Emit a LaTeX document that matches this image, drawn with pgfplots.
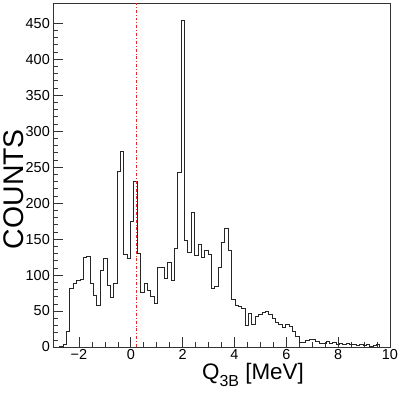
\documentclass[border=0pt]{standalone}
\usepackage{fontspec}
\setmainfont{Liberation Sans}
\usepackage{pgfplots}
\usepackage{pgfplotstable}
\pgfplotsset{compat=1.18}
\definecolor{rootred}{RGB}{230,40,40}
\pgfplotstableread{
x c
-3.00 0
-2.87 0
-2.74 1
-2.61 4
-2.48 21
-2.35 81
-2.22 88
-2.09 92
-1.96 94
-1.83 125
-1.70 126
-1.57 88
-1.44 72
-1.31 58
-1.18 106
-1.05 123
-0.92 85
-0.79 69
-0.66 88
-0.53 244
-0.40 272
-0.27 129
-0.14 123
-0.01 174
0.12 230
0.25 130
0.38 76
0.51 88
0.64 78
0.77 70
0.90 60
1.03 110
1.16 110
1.29 96
1.42 118
1.55 93
1.68 137
1.81 242
1.94 454
2.07 148
2.20 131
2.33 187
2.46 127
2.59 142
2.72 125
2.85 134
2.98 128
3.11 82
3.24 84
3.37 111
3.50 146
3.63 165
3.76 134
3.89 66
4.02 58
4.15 56
4.28 54
4.41 30
4.54 46
4.67 32
4.80 43
4.93 45
5.06 48
5.19 50
5.32 45
5.45 40
5.58 34
5.71 31
5.84 27
5.97 32
6.10 28
6.23 21
6.36 15
6.49 6
6.62 7
6.75 9
6.88 10
7.01 11
7.14 8
7.27 5
7.40 5
7.53 8
7.66 5
7.79 6
7.92 4
8.05 5
8.18 3
8.31 5
8.44 3
8.57 3
8.70 2
8.83 4
8.96 2
9.09 3
9.22 1
9.35 2
9.48 3
9.61 0
9.74 0
9.87 0
10.00 0
}\histdata
\begin{document}
\begin{tikzpicture}
\useasboundingbox (-53bp,-49bp) rectangle (347bp,347bp);
\begin{axis}[
  at={(0,0)}, anchor=south west,
  width=337bp, height=344bp, scale only axis,
  xmin=-3, xmax=10, ymin=0, ymax=478,
  xtick={-2,0,2,4,6,8,10}, xticklabels={−2,0,2,4,6,8,10},
  ytick={0,50,...,450},
  minor x tick num=3, minor y tick num=4,
  xtick pos=bottom, ytick pos=left,
  tick align=inside,
  major tick length=10bp, minor tick length=5bp,
  tick style={black!80, line width=0.6bp},
  axis line style={black!80, line width=0.9bp},
  /pgf/number format/assume math mode=true,
  ticklabel style={font=\fontsize{14.5}{16}\selectfont},
  xticklabel style={inner sep=0pt, yshift=-2bp},
  yticklabel style={inner sep=0pt, xshift=-3bp},
  xlabel={Q\raisebox{-0.3em}{\fontsize{16}{16}\selectfont 3B} [MeV]},
  xlabel style={at={(axis description cs:0.442,-0.094)}, anchor=base west, inner sep=0pt, font=\fontsize{22.5}{24}\selectfont},
  ylabel={COUNTS},
  ylabel style={at={(axis description cs:-0.116,0.459)}, anchor=center, inner sep=0pt, font=\fontsize{28.5}{30}\selectfont},
]
\addplot[const plot, black!85, line width=0.8bp] table[x=x, y=c] {\histdata};
\addplot[rootred, line width=0.8bp, dash dot] coordinates {(0.2,0) (0.2,478)};
\end{axis}
\end{tikzpicture}
\end{document}
